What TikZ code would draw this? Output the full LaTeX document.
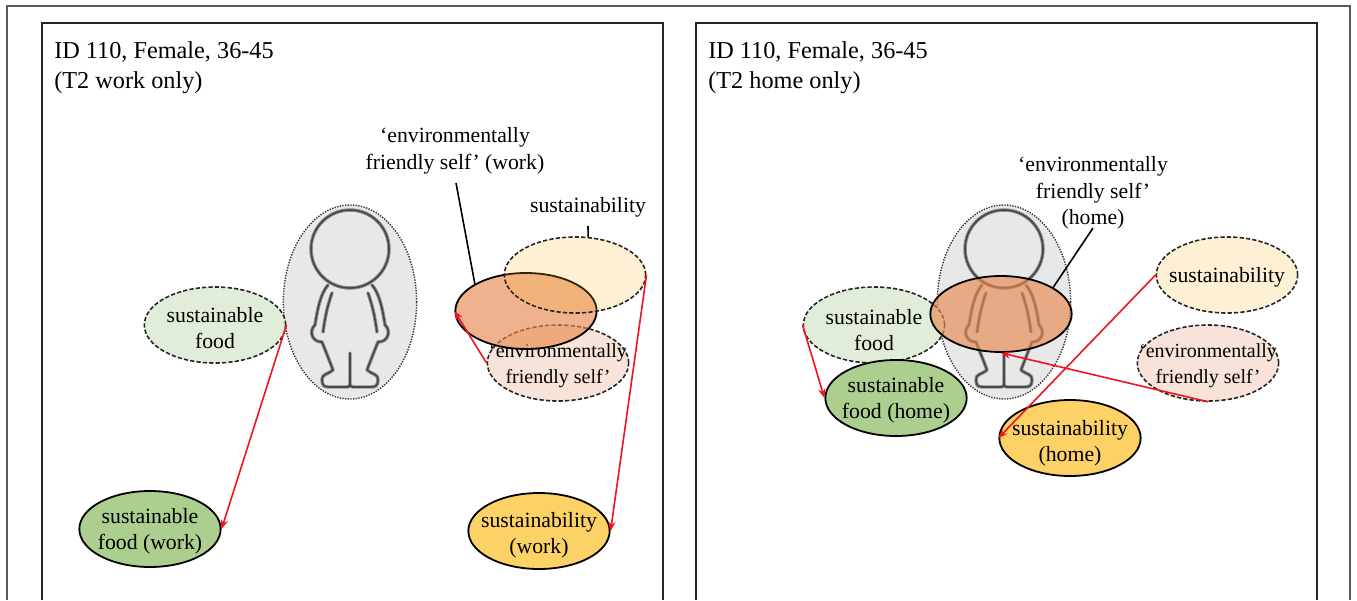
\documentclass[tikz,border=0pt]{standalone}
\usepackage{fontspec}
\setmainfont{Liberation Serif}
\usetikzlibrary{shapes.geometric,arrows.meta}
\newcommand{\tl}[2][0]{\makebox[0pt]{\raisebox{-#1\dimexpr0.75pt\relax}[\height][\depth]{\begin{tabular}{@{}c@{}}#2\end{tabular}}}}
\newcommand{\smalltext}{\fontsize{15}{19.5}\selectfont}
\definecolor{redline}{RGB}{240,20,30}
\definecolor{sfgreen}{RGB}{226,237,217}
\definecolor{homegreen}{RGB}{172,207,143}
\definecolor{efsfill}{RGB}{248,227,216}
\definecolor{workyellow}{RGB}{252,209,101}
\definecolor{orangefill}{RGB}{233,138,80}
\definecolor{susfill}{RGB}{245,180,45}
\tikzset{
  x=0.75pt,y=-0.75pt,
  px/.style={line width=#1*0.75pt},
  ell/.style={ellipse,inner sep=0pt,minimum width=106pt,minimum height=57pt,align=center,font=\fontsize{16.3}{19.8}\selectfont},
  dashell/.style={ell,draw=black!85,px=1.6,dash pattern=on 3.2pt off 1.6pt},
  solidell/.style={ell,draw=black,px=1.8},
  sfell/.style={dashell,fill=sfgreen},
  susell/.style={dashell,fill=susfill,fill opacity=0.2,text opacity=1},
  efsell/.style={dashell,fill=efsfill},
  foodell/.style={solidell,fill=homegreen},
  yellowell/.style={solidell,fill=workyellow},
  orangeell/.style={solidell,fill=orangefill,fill opacity=0.65,text opacity=1},
  personell/.style={ellipse,inner sep=0pt,minimum width=100pt,minimum height=145.5pt,draw=black!80,px=1.4,dash pattern=on 1pt off 1pt,fill=black!9},
  title/.style={anchor=north west,inner sep=0pt,align=left,font=\fontsize{18.2}{22.5}\selectfont},
  lbl/.style={inner sep=0pt,align=center,font=\fontsize{16.3}{19.8}\selectfont},
  redarrow/.style={draw=redline,px=1.6,-{Stealth[length=7pt,width=5.5pt]}},
  leader/.style={draw=black,px=1.6},
  panel/.style={draw=black!85,px=2},
  outerframe/.style={draw=black!65,px=1.2},
  figline/.style={draw=black!45,line width=2.6pt,line join=round,line cap=round},
  figcore/.style={draw=black!72,line width=1.2pt,line join=round,line cap=round},
  personpic/.pic={
    \foreach \st in {figline,figcore}{
      \draw[\st] (0,-53) circle[radius=39];
      \draw[\st] (-22,-17) .. controls (-30,-8) and (-33,10) .. (-35,23)
        .. controls (-41,28) and (-39,40) .. (-28,40)
        .. controls (-24,50) and (-20,60) .. (-17,68)
        .. controls (-21,72) and (-29,72) .. (-28,78)
        .. controls (-28,84) and (-25,85) .. (-21,85) -- (-3,85)
        .. controls (-1,85) and (0,84) .. (0,82) -- (0,51);
      \draw[\st] (0,82) .. controls (0,84) and (1,85) .. (3,85) -- (21,85)
        .. controls (25,85) and (28,84) .. (28,78)
        .. controls (29,72) and (21,72) .. (17,68)
        .. controls (20,60) and (24,50) .. (28,40)
        .. controls (39,40) and (41,28) .. (35,23)
        .. controls (33,10) and (30,-8) .. (22,-17);
      \draw[\st] (-18,-9) .. controls (-23,5) and (-25,16) .. (-27,30);
      \draw[\st] (18,-9) .. controls (23,5) and (25,16) .. (27,30);
    }
  }
}
\begin{document}
\begin{tikzpicture}
\useasboundingbox[fill=white] (0,0) rectangle (1357,600);
\draw[outerframe] (7,600) -- (7,6) -- (1350,6) -- (1350,600);
\draw[panel] (42,600) -- (42,23) -- (663,23) -- (663,600);
\draw[panel] (696,600) -- (696,23) -- (1317,23) -- (1317,600);

% left panel
\node[title] (t1) at (54,41) {ID 110, Female, 36-45\\(T2 work only)};
\node[personell] (p1) at (350,302) {};
\pic at (350,302) {personpic};
\node[sfell] (sf1) at (215,325) {\tl[5]{sustainable\\food}};
\node[foodell] (food1) at (150,529) {\tl[2]{sustainable\\food (work)}};
\node[yellowell] (sw1) at (539,531) {\tl[4]{sustainability\\(work)}};
\node[efsell] (efs1) at (558,363) {\tl[2]{\smalltext ‘environmentally\\\smalltext friendly self’}};
\node[orangeell] (o1) at (526,311) {};
\node[susell] (sus1) at (575,275) {};
\node[lbl] (lo1) at (455,151) {‘environmentally\\friendly self’ (work)};
\node[lbl] (ls1) at (588,207) {sustainability};
\coordinate (lo1end) at (456,183);
\coordinate (ls1end) at (588,226);
\draw[leader] (lo1end) -- (o1.152);
\draw[leader] (ls1end) -- (sus1.71);
\draw[redarrow] (sf1.east) -- (food1.east);
\draw[redarrow] (sus1.east) -- (sw1.east);
\draw[redarrow] (efs1.west) -- (o1.west);

% right panel
\node[title] (t2) at (708,41) {ID 110, Female, 36-45\\(T2 home only)};
\node[personell] (p2) at (1004,302) {};
\pic at (1004,302) {personpic};
\node[sfell] (sf2) at (874,325) {\tl[7]{sustainable\\food}};
\node[foodell] (food2) at (896,398) {\tl[2]{sustainable\\food (home)}};
\node[orangeell] (o2) at (1001,314) {};
\node[susell] (sus2) at (1227,275) {\tl[2]{sustainability}};
\node[efsell] (efs2) at (1208,363) {\tl[2]{\smalltext ‘environmentally\\\smalltext friendly self’}};
\node[yellowell] (sh2) at (1070,438) {\tl[5]{sustainability\\(home)}};
\node[lbl] (lo2) at (1093,193) {‘environmentally\\friendly self’\\(home)};
\coordinate (lo2end) at (1093,228);
\draw[leader] (lo2end) -- (o2.27);
\draw[redarrow] (sf2.west) -- (food2.west);
\draw[redarrow] (sus2.west) -- (sh2.west);
\draw[redarrow] (efs2.south) -- (o2.south);
\end{tikzpicture}
\end{document}
